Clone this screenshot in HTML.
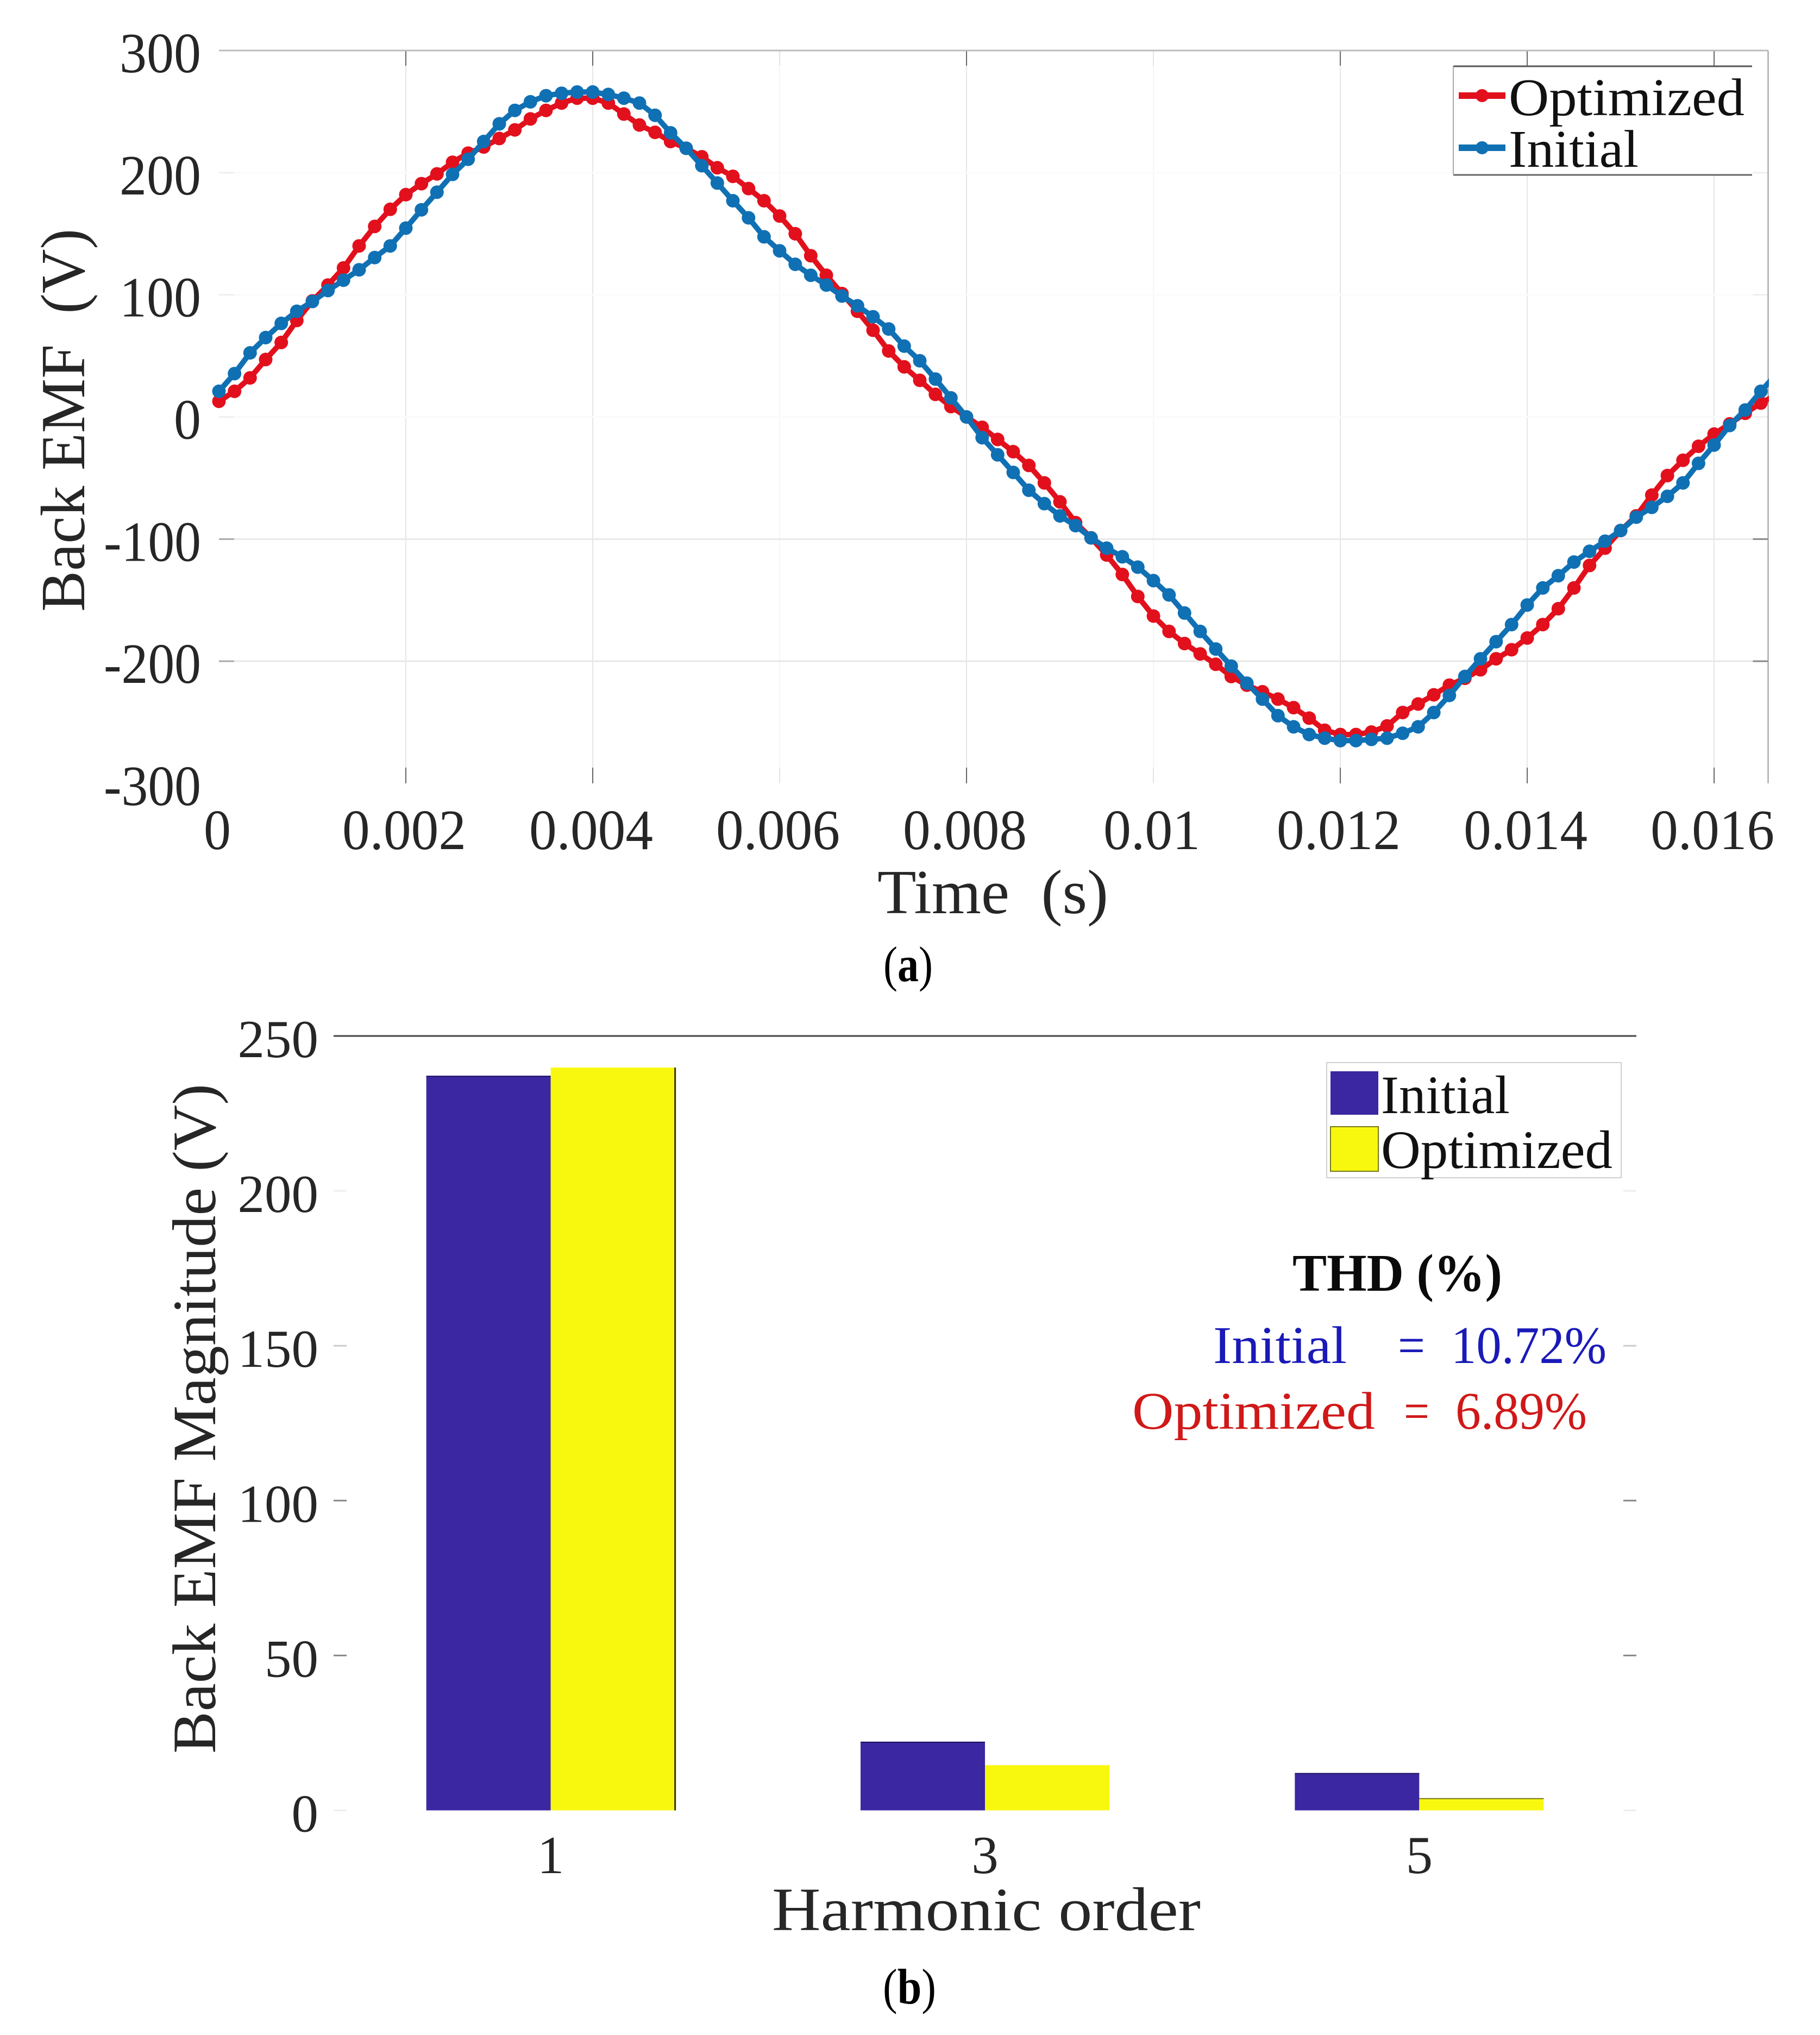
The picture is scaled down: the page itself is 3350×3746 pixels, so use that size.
<!DOCTYPE html>
<html lang="en">
<head>
<meta charset="utf-8">
<title>Back EMF waveform and harmonic magnitude</title>
<style>
html,body{margin:0;padding:0;background:#fff;}
svg{display:block;}
text{font-family:"Liberation Serif",serif;fill:#262626;}
</style>
</head>
<body>
<svg id="figure" xmlns="http://www.w3.org/2000/svg" width="3350" height="3746" viewBox="0 0 3350 3746">
  <defs>
    <clipPath id="plot-clip"><rect x="370" y="60" width="2886" height="1420"/></clipPath>
  </defs>
  <rect x="0" y="0" width="3350" height="3746" fill="#ffffff"/>
  <g id="chart-a"></g>
  <g id="chart-b"></g>

  <text transform="translate(155 1126) rotate(-90)" font-size="115" textLength="705" lengthAdjust="spacingAndGlyphs" xml:space="preserve">Back EMF  (V)</text>
  <text x="1615" y="1681" font-size="115" textLength="425" lengthAdjust="spacingAndGlyphs" xml:space="preserve">Time  (s)</text>
  <text x="1626" y="1806" font-size="92" textLength="91" lengthAdjust="spacingAndGlyphs" style="fill:#000">(<tspan font-weight="bold">a</tspan>)</text>

  <g>
    <rect x="2675" y="122" width="550" height="200" fill="#ffffff"/>
    <line x1="2675" y1="122" x2="3225" y2="122" stroke="#555555" stroke-width="3"/>
    <line x1="2675" y1="322" x2="3225" y2="322" stroke="#666666" stroke-width="3"/>
    <line x1="2675" y1="122" x2="2675" y2="322" stroke="#aaaaaa" stroke-width="2"/>
    <line x1="2685" y1="176" x2="2771" y2="176" stroke="#e2101c" stroke-width="12"/>
    <circle cx="2728" cy="176" r="12" fill="#e2101c"/>
    <line x1="2685" y1="272" x2="2771" y2="272" stroke="#1070b4" stroke-width="12"/>
    <circle cx="2728" cy="272" r="12" fill="#1070b4"/>
    <text x="2777" y="212" font-size="98" textLength="434" lengthAdjust="spacingAndGlyphs" style="fill:#111">Optimized</text>
    <text x="2777" y="307" font-size="98" textLength="239" lengthAdjust="spacingAndGlyphs" style="fill:#111">Initial</text>
  </g>

  <text transform="translate(396 3228) rotate(-90)" font-size="113" textLength="1233" lengthAdjust="spacingAndGlyphs">Back EMF Magnitude (V)</text>
  <text x="1421" y="3553" font-size="113" textLength="789" lengthAdjust="spacingAndGlyphs">Harmonic order</text>
  <text x="1625" y="3688" font-size="92" textLength="98" lengthAdjust="spacingAndGlyphs" style="fill:#000">(<tspan font-weight="bold">b</tspan>)</text>

  <g>
    <rect x="2442" y="1956" width="542" height="212" fill="#ffffff" stroke="#d0d0d0" stroke-width="2"/>
    <rect x="2449" y="1972" width="88" height="80" fill="#3b27a1"/>
    <rect x="2449" y="2074" width="88" height="82" fill="#f8f80f" stroke="#77771a" stroke-width="2"/>
    <text x="2542" y="2049" font-size="100" textLength="237" lengthAdjust="spacingAndGlyphs" style="fill:#111">Initial</text>
    <text x="2542" y="2150" font-size="100" textLength="426" lengthAdjust="spacingAndGlyphs" style="fill:#111">Optimized</text>
  </g>

  <g>
    <text x="2379" y="2376" font-size="98" font-weight="bold" textLength="386" lengthAdjust="spacingAndGlyphs" style="fill:#0a0a0a">THD (%)</text>
    <text x="2233" y="2509" font-size="98" textLength="246" lengthAdjust="spacingAndGlyphs" style="fill:#1a1ab8">Initial</text>
    <text x="2573" y="2509" font-size="98" textLength="50" lengthAdjust="spacingAndGlyphs" style="fill:#1a1ab8">=</text>
    <text x="2671" y="2509" font-size="98" textLength="286" lengthAdjust="spacingAndGlyphs" style="fill:#1a1ab8">10.72%</text>
    <text x="2084" y="2630" font-size="98" textLength="447" lengthAdjust="spacingAndGlyphs" style="fill:#d01818">Optimized</text>
    <text x="2584" y="2630" font-size="98" textLength="47" lengthAdjust="spacingAndGlyphs" style="fill:#d01818">=</text>
    <text x="2679" y="2630" font-size="98" textLength="242" lengthAdjust="spacingAndGlyphs" style="fill:#d01818">6.89%</text>
  </g>
</svg>

<script>
// ---------- Chart (a) data: back EMF waveform ----------
const timeSamples = [0,0.000167,0.000333,0.0005,0.000667,0.000833,0.001,0.001167,0.001333,0.0015,0.001667,0.001833,0.002,0.002167,0.002333,0.0025,0.002667,0.002833,0.003,0.003167,0.003333,0.0035,0.003667,0.003833,0.004,0.004167,0.004333,0.0045,0.004667,0.004833,0.005,0.005167,0.005333,0.0055,0.005667,0.005833,0.006,0.006167,0.006333,0.0065,0.006667,0.006833,0.007,0.007167,0.007333,0.0075,0.007667,0.007833,0.008,0.008167,0.008333,0.0085,0.008667,0.008833,0.009,0.009167,0.009333,0.0095,0.009667,0.009833,0.01,0.010167,0.010333,0.0105,0.010667,0.010833,0.011,0.011167,0.011333,0.0115,0.011667,0.011833,0.012,0.012167,0.012333,0.0125,0.012667,0.012833,0.013,0.013167,0.013333,0.0135,0.013667,0.013833,0.014,0.014167,0.014333,0.0145,0.014667,0.014833,0.015,0.015167,0.015333,0.0155,0.015667,0.015833,0.016,0.016167,0.016333,0.0165,0.016667];
const optimizedEmf = [12.8,21,32,47,61,79,95,108,122,140,156,170,182,191,199,208.5,216,221,228,235,244,251,257,261,261,257,248,239,233,225.5,220,213,204,197,187,177,164.5,150,132,116,101,86.5,71,54,41,30,18.5,8.5,0,-8.5,-18.4,-28.4,-39.7,-54,-69.5,-86.5,-99,-113,-129,-147,-163,-175.6,-185.5,-194,-202.5,-212.5,-219.6,-225,-231,-238,-246.6,-256.5,-260,-260,-258,-253,-242,-235,-227.5,-219.6,-214,-207,-198,-190.6,-181,-170,-157,-140,-121.6,-107.4,-93,-81,-64,-48,-35.5,-24,-14,-5.7,3,11.4,18];
const initialEmf = [21,35.5,52.5,65,76.6,86.5,94.5,103.5,112,120.5,130.5,140,154.6,169.6,184,198.6,211,225.5,240,251,258,263,265,266,266,264,261,257,247,232.6,220,205.7,191.5,177,163,147.5,136,125,116,108,99,91,82,72,58,46,31,15.6,0,-17,-31,-45.4,-60,-71,-81,-89,-99,-107.4,-114.5,-123,-134,-145.7,-160.5,-175.6,-190,-204,-218,-231,-244.6,-253.7,-260,-263,-265,-265,-264,-263,-259,-253.7,-242,-228,-212.5,-198,-184,-170,-154,-140,-130,-118.8,-110,-101.7,-93,-82,-74,-65,-54,-38,-23,-7,5.7,21,35];
const timeTicks = [0,0.002,0.004,0.006,0.008,0.01,0.012,0.014,0.016];
const timeTickLabels = ['0','0.002','0.004','0.006','0.008','0.01','0.012','0.014','0.016'];
const emfTicks = [300,200,100,0,-100,-200,-300];
const emfTickLabels = ['300','200','100','0','-100','-200','-300'];

// ---------- Chart (b) data: harmonic magnitudes ----------
const harmonicOrders = ['1','3','5'];
const initialMagnitude = [237,22,11.9];
const optimizedMagnitude = [239.8,14.6,3.8];
const magnitudeTicks = [250,200,150,100,50,0];
const magnitudeTickLabels = ['250','200','150','100','50','0'];

const SVGNS = 'http://www.w3.org/2000/svg';
function make(parent, tag, attrs) {
  const el = document.createElementNS(SVGNS, tag);
  for (const k in attrs) el.setAttribute(k, attrs[k]);
  parent.appendChild(el);
  return el;
}
function labelWidth(s) {
  let w = 0;
  for (const c of s) w += c === '.' ? 28 : c === '-' ? 29 : 50;
  return w;
}

// ---------- Chart (a) axes ----------
const aLeft = 403, aRight = 3254.5, aTop = 93, aBottom = 1442;
const timeMax = 0.016578;
const xTime = t => aLeft + (t / timeMax) * (aRight - aLeft);
const yEmf = v => aTop + ((300 - v) / 600) * (aBottom - aTop);
const gA = document.getElementById('chart-a');

timeTicks.forEach((t, i) => {
  if (t === 0) return;
  const x = xTime(t);
  const faint = t === 0.006 || t === 0.01;
  const grid = make(gA, 'line', {x1: x, y1: aTop, x2: x, y2: aBottom, stroke: faint ? '#f6f6f6' : '#e6e6e6', 'stroke-width': 2});
  
  
  const tickTop = make(gA, 'line', {x1: x, y1: aTop, x2: x, y2: aTop + 28, stroke: faint ? '#e4e4e4' : '#666666', 'stroke-width': 2});
  
  
  const tickBottom = make(gA, 'line', {x1: x, y1: aBottom - 29, x2: x, y2: aBottom, stroke: faint ? '#e4e4e4' : '#666666', 'stroke-width': 2});
  
  
});
emfTicks.forEach((v, i) => {
  const y = yEmf(v);
  if (v > -300 && v < 300) {
    const visible = v < 0;
    const grid = make(gA, 'line', {x1: aLeft, y1: y, x2: aRight, y2: y, stroke: visible ? '#e8e8e8' : '#fbfbfb', 'stroke-width': 3});
    
    
    const tickL = make(gA, 'line', {x1: aLeft, y1: y, x2: aLeft + 28, y2: y, stroke: visible ? '#aaaaaa' : '#efefef', 'stroke-width': 3});
    
    
    const tickR = make(gA, 'line', {x1: aRight - 28, y1: y, x2: aRight, y2: y, stroke: visible ? '#888888' : '#efefef', 'stroke-width': 3});
    
    
  }
});
const aTopBorder = make(gA, 'line', {x1: aLeft, y1: aTop, x2: aRight, y2: aTop, stroke: '#bcbcbc', 'stroke-width': 3});


const aRightBorder = make(gA, 'line', {x1: aRight, y1: aTop, x2: aRight, y2: aBottom, stroke: '#999999', 'stroke-width': 2});



emfTickLabels.forEach((s, i) => {
  const t = make(gA, 'text', {x: 370, y: yEmf(emfTicks[i]) + 40, 'font-size': 105, 'text-anchor': 'end', textLength: labelWidth(s), lengthAdjust: 'spacingAndGlyphs'});
  t.textContent = s;
  
  
});
timeTickLabels.forEach((s, i) => {
  const t = make(gA, 'text', {x: xTime(timeTicks[i]) - 3, y: 1563, 'font-size': 105, 'text-anchor': 'middle', textLength: labelWidth(s), lengthAdjust: 'spacingAndGlyphs'});
  t.textContent = s;
  
  
});

function drawSeries(values, color, seriesName) {
  const g = make(gA, 'g', {'clip-path': 'url(#plot-clip)'});
  
  
  const pts = values.map((v, i) => xTime(timeSamples[i]).toFixed(1) + ',' + yEmf(v).toFixed(1)).join(' ');
  const line = make(g, 'polyline', {points: pts, fill: 'none', stroke: color, 'stroke-width': 10, 'stroke-linejoin': 'round'});
  
  
  values.forEach((v, i) => {
    const c = make(g, 'circle', {cx: xTime(timeSamples[i]).toFixed(1), cy: yEmf(v).toFixed(1), r: 12.5, fill: color});
    
    
  });
}
drawSeries(optimizedEmf, '#e2101c', 'optimized');
drawSeries(initialEmf, '#1070b4', 'initial');

// ---------- Chart (b) axes ----------
const bLeft = 614, bRight = 3012, bTop = 1907, bBottom = 3332.5;
const bandWidth = (bRight - bLeft) / harmonicOrders.length;
const barWidth = 229;
const xBand = i => bLeft + bandWidth * (i + 0.5);
const yMag = v => bBottom - (v / 250) * (bBottom - bTop);
const gB = document.getElementById('chart-b');

const bTopBorder = make(gB, 'line', {x1: bLeft, y1: bTop, x2: bRight, y2: bTop, stroke: '#444444', 'stroke-width': 3});



magnitudeTicks.forEach((v, i) => {
  const y = yMag(v);
  if (v < 250) {
    const strong = v === 100 || v === 50;
    const shade = strong ? '#888888' : v === 150 ? '#cccccc' : '#eeeeee';
    const tickL = make(gB, 'line', {x1: bLeft, y1: y, x2: bLeft + 24, y2: y, stroke: shade, 'stroke-width': 3});
    
    
    const tickR = make(gB, 'line', {x1: bRight - 24, y1: y, x2: bRight, y2: y, stroke: shade, 'stroke-width': 3});
    
    
  }
  const t = make(gB, 'text', {x: 586, y: y + 39, 'font-size': 99, 'text-anchor': 'end'});
  t.textContent = magnitudeTickLabels[i];
  
  
});

harmonicOrders.forEach((s, i) => {
  const cx = xBand(i);
  const barI = make(gB, 'rect', {x: cx - barWidth, y: yMag(initialMagnitude[i]), width: barWidth, height: bBottom - yMag(initialMagnitude[i]), fill: '#3b27a1'});
  
  
  const topI = make(gB, 'line', {x1: cx - barWidth, y1: yMag(initialMagnitude[i]), x2: cx, y2: yMag(initialMagnitude[i]), stroke: '#1c1260', 'stroke-width': 2});
  
  
  const barO = make(gB, 'rect', {x: cx, y: yMag(optimizedMagnitude[i]), width: barWidth, height: bBottom - yMag(optimizedMagnitude[i]), fill: '#f8f80f'});
  
  
  const t = make(gB, 'text', {x: cx, y: 3448, 'font-size': 99, 'text-anchor': 'middle'});
  t.textContent = s;
  
  
});
const edgeX = xBand(0) + barWidth;
const firstBarEdge = make(gB, 'line', {x1: edgeX, y1: yMag(optimizedMagnitude[0]), x2: edgeX, y2: bBottom, stroke: '#333300', 'stroke-width': 3});


const lastBarTop = make(gB, 'line', {x1: xBand(2), y1: yMag(optimizedMagnitude[2]), x2: xBand(2) + barWidth, y2: yMag(optimizedMagnitude[2]), stroke: '#77771a', 'stroke-width': 2});


</script>
</body>
</html>
